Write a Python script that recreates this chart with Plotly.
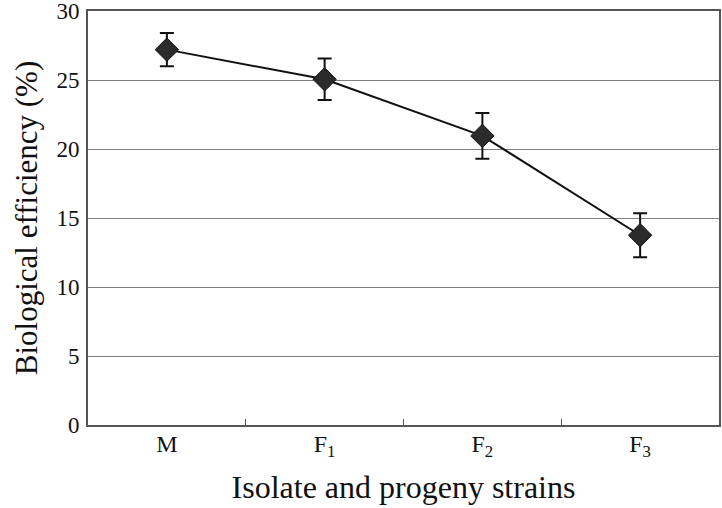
import plotly.graph_objects as go

categories = ["M", "F<sub>1</sub>", "F<sub>2</sub>", "F<sub>3</sub>"]
efficiency = [27.2, 25.05, 20.95, 13.75]
errors = [1.2, 1.5, 1.65, 1.6]
y_ticks = [0, 5, 10, 15, 20, 25, 30]

serif = "Liberation Serif, Times New Roman, serif"

fig = go.Figure()
fig.add_trace(go.Scatter(
    x=categories, y=efficiency,
    mode="lines+markers",
    line=dict(color="#111111", width=2),
    marker=dict(symbol="diamond", size=18, color="#2b2b2b",
                line=dict(color="#111111", width=1)),
    error_y=dict(type="data", array=errors, visible=True,
                 color="#111111", thickness=2, width=7),
    showlegend=False,
))

fig.update_layout(
    width=722, height=508,
    autosize=False,
    margin=dict(l=88, r=3, t=11, b=83),
    paper_bgcolor="white", plot_bgcolor="white",
    font=dict(family=serif, color="#111111", size=22),
)
fig.update_xaxes(
    type="category",
    range=[-0.5, 3.5],
    automargin=False,
    tickson="boundaries",
    ticks="inside", ticklen=6, tickcolor="#555555", tickwidth=1,
    showline=True, linecolor="#555555", linewidth=2, mirror=True,
    showgrid=False,
    tickfont=dict(family=serif, size=24),
    ticklabelstandoff=-4,
    title=dict(text="Isolate and progeny strains",
               font=dict(family=serif, size=32), standoff=16),
)
fig.update_yaxes(
    range=[0, 30],
    automargin=False,
    tickvals=y_ticks,
    ticks="",
    showline=True, linecolor="#555555", linewidth=2, mirror=True,
    showgrid=True, gridcolor="#808080", gridwidth=1,
    zeroline=False,
    tickfont=dict(family=serif, size=23),
    ticklabelstandoff=2,
    ticklabeloverflow="allow",
    title=dict(text="Biological efficiency (%)",
               font=dict(family=serif, size=31), standoff=10),
)

fig.write_html(
    "out.html",
    config={"responsive": False, "displayModeBar": False},
    post_script="document.body.style.margin='0';document.body.style.overflow='hidden';",
)
